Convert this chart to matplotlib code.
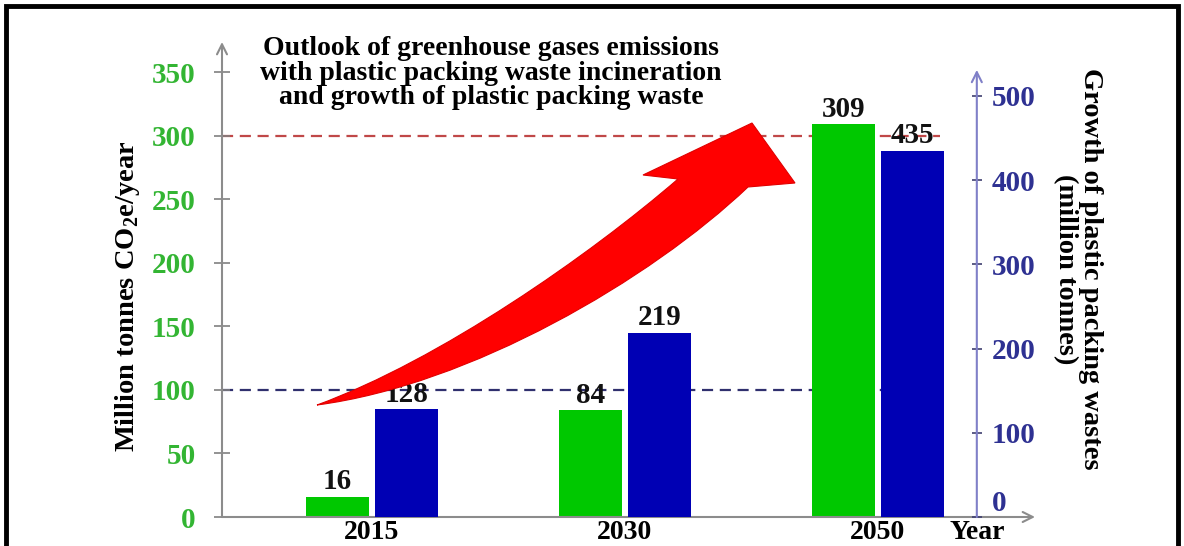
import numpy as np
import matplotlib
matplotlib.use('Agg')
import matplotlib.pyplot as plt
from matplotlib.path import Path
from matplotlib.patches import PathPatch, Rectangle

plt.rcParams['font.family'] = 'Liberation Serif'
plt.rcParams['font.weight'] = 'bold'
plt.rcParams['mathtext.fontset'] = 'custom'
plt.rcParams['mathtext.rm'] = 'Liberation Serif:bold'
plt.rcParams['mathtext.bf'] = 'Liberation Serif:bold'

# data
years = ['2015', '2030', '2050']
ghg_emissions = [16, 84, 309]        # million tonnes CO2e / year
packing_waste = [128, 219, 435]      # million tonnes
ghg_ticks = [0, 50, 100, 150, 200, 250, 300, 350]
waste_ticks = [0, 100, 200, 300, 400, 500]
ghg_ref_lines = [300, 100]

W, H = 1184, 546


def fig_xy(x, y):
    # pixel position (from top-left) -> figure fraction
    return x / W, 1 - y / H


fig = plt.figure(figsize=(W / 100, H / 100), dpi=100)
x0, y0 = fig_xy(222, 517)
x1, y1 = fig_xy(1035, 42)
ax = fig.add_axes([x0, y0, x1 - x0, y1 - y0])
ax2 = ax.twinx()

ax.set_xlim(-0.593, 2.621)
ax.set_ylim(0, 373.7)
ax2.set_ylim(0, 564.1)
right_x = 2.391

for a in (ax, ax2):
    for s in a.spines.values():
        s.set_visible(False)
ax2.spines['right'].set_position(('data', right_x))

x = np.arange(len(years))
bw = 0.249
ax.bar(x - 0.136, ghg_emissions, bw, color='#00c800', zorder=2)
ax2.bar(x + 0.138, packing_waste, bw, color='#0000b4', zorder=2)

# reference lines
ax.hlines(ghg_ref_lines[0], -0.593, 2.245, colors='#c04848', lw=1.6,
          linestyles=(0, (5, 3)), zorder=1)
ax.hlines(ghg_ref_lines[1], -0.593, 2.245, colors='#30306e', lw=1.6,
          linestyles=(0, (5, 3)), zorder=1)

# value labels
for xi, v in zip(x, ghg_emissions):
    ax.text(xi - 0.136, v + 1, str(v), ha='center', va='bottom',
            fontsize=21, color='#111111', zorder=5)
for xi, v in zip(x, packing_waste):
    ax2.text(xi + 0.138, v + 2, str(v), ha='center', va='bottom',
             fontsize=21, color='#111111', zorder=5)

# axes drawn as arrows
ax.annotate('', xy=(0, 1), xytext=(0, 0), xycoords='axes fraction',
            arrowprops=dict(arrowstyle='->', color='#8c8c8c', lw=1.5,
                            mutation_scale=18, shrinkA=0, shrinkB=0))
ax.annotate('', xy=(1, 0), xytext=(0, 0), xycoords='axes fraction',
            arrowprops=dict(arrowstyle='->', color='#8c8c8c', lw=1.5,
                            mutation_scale=18, shrinkA=0, shrinkB=0))
ax2.annotate('', xy=(right_x, 531), xytext=(right_x, 0),
             arrowprops=dict(arrowstyle='->', color='#8080c8', lw=1.5,
                             mutation_scale=18, shrinkA=0, shrinkB=0))

ax.set_xticks([])
ax.set_yticks(ghg_ticks)
ax.tick_params(axis='y', direction='inout', length=12, width=1.2,
               color='#808080', labelcolor='#33b533', labelsize=21, pad=13)
ax2.set_yticks(waste_ticks)
ax2.tick_params(axis='y', direction='inout', length=7, width=1.2,
                color='#404070', labelcolor='#2e3192', labelsize=21, pad=7)
ax2.get_yticklabels()[0].set_verticalalignment('bottom')

# year labels under the bar groups
xlab_y = -22 / 475
for xi, yr in zip(x, years):
    ax.text(xi, xlab_y, yr, transform=ax.get_xaxis_transform(),
            ha='center', va='baseline', fontsize=20)
ax.text(right_x, xlab_y, 'Year', transform=ax.get_xaxis_transform(),
        ha='center', va='baseline', fontsize=20)

# axis titles and headline
fig.text(*fig_xy(127, 296), 'Million tonnes CO$_2$e/year', rotation=90,
         ha='center', va='center', fontsize=20.5)
fig.text(*fig_xy(1078, 269), 'Growth of plastic packing wastes\n(million tonnes)',
         rotation=-90, ha='center', va='center', multialignment='center',
         fontsize=20.5, linespacing=1.05)
fig.text(*fig_xy(491, 73),
         'Outlook of greenhouse gases emissions\n'
         'with plastic packing waste incineration\n'
         'and growth of plastic packing waste',
         ha='center', va='center', fontsize=20, linespacing=0.95)

# big red growth arrow
pts = [(317, 405), (440, 360), (590, 255), (678, 179), (643, 175), (752, 123),
       (795, 183), (748, 187), (650, 280), (470, 385), (317, 405)]
codes = [Path.MOVETO, Path.CURVE4, Path.CURVE4, Path.CURVE4, Path.LINETO,
         Path.LINETO, Path.LINETO, Path.LINETO, Path.CURVE4, Path.CURVE4,
         Path.CURVE4]
arrow = PathPatch(Path([fig_xy(*p) for p in pts], codes),
                  transform=fig.transFigure, facecolor='#ff0000',
                  edgecolor='#e00000', lw=0.8, zorder=3)
fig.add_artist(arrow)

# frame around the figure
fig.add_artist(Rectangle(fig_xy(5.5, 560), (1178 - 5.5) / W, (560 - 6) / H,
                         transform=fig.transFigure, fill=False,
                         edgecolor='black', lw=3.5, zorder=10))

fig.savefig('out.png', dpi=100)
